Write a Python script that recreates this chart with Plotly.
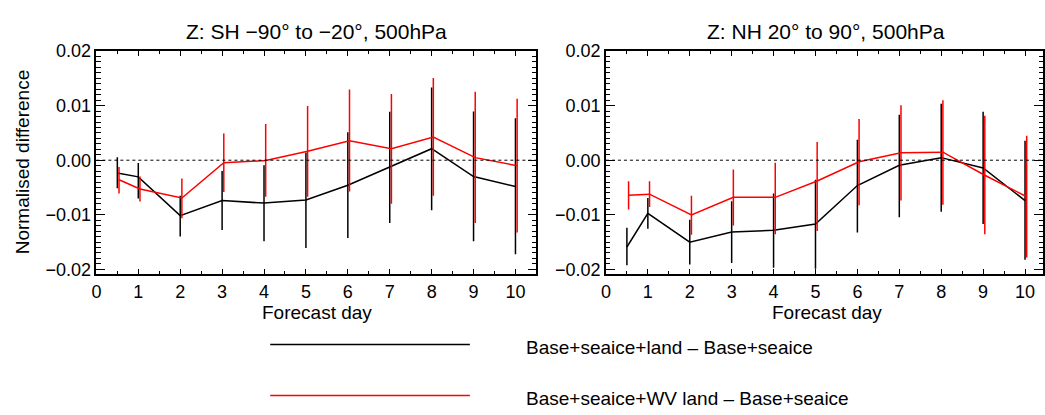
import plotly.graph_objects as go

# ---------------- data ----------------
days = [0.5, 1, 2, 3, 4, 5, 6, 7, 8, 9, 10]
x_ticks = [0, 1, 2, 3, 4, 5, 6, 7, 8, 9, 10]
y_ticks = [-0.02, -0.01, 0.0, 0.01, 0.02]

panel_titles = ["Z: SH \u221290\u00b0 to \u221220\u00b0, 500hPa", "Z: NH 20\u00b0 to 90\u00b0, 500hPa"]
series_names = ["Base+seaice+land \u2013 Base+seaice", "Base+seaice+WV land \u2013 Base+seaice"]

# SH panel, black series (Base+seaice+land - Base+seaice)
sh_land_mean = [-0.00235, -0.00305, -0.01015, -0.0074, -0.00786, -0.00728, -0.00458, -0.00123, 0.00211, -0.0030, -0.00481]
sh_land_hi = [0.00053, -0.00053, -0.0065, -0.0020, -0.00094, 0.00141, 0.0051, 0.00886, 0.01332, 0.00892, 0.00769]
sh_land_lo = [-0.00516, -0.0070, -0.01397, -0.0128, -0.01485, -0.01608, -0.01426, -0.0115, -0.00915, -0.01485, -0.01725]

# SH panel, red series (Base+seaice+WV land - Base+seaice)
sh_wv_mean = [-0.00358, -0.00528, -0.00692, -0.00047, -0.00006, 0.00164, 0.00358, 0.00211, 0.00423, 0.00047, -0.0010]
sh_wv_hi = [-0.00123, -0.0030, -0.00335, 0.00487, 0.00663, 0.00992, 0.01297, 0.01215, 0.01508, 0.01256, 0.01127]
sh_wv_lo = [-0.0061, -0.00757, -0.01062, -0.00581, -0.00669, -0.00669, -0.00575, -0.00798, -0.00651, -0.0115, -0.01326]

# NH panel, black series
nh_land_mean = [-0.0159, -0.00974, -0.01502, -0.01315, -0.01285, -0.01168, -0.00464, -0.00094, 0.00047, -0.00141, -0.0074]
nh_land_hi = [-0.01238, -0.00692, -0.01092, -0.00751, -0.0061, -0.00358, 0.00376, 0.00833, 0.01033, 0.00886, 0.00358]
nh_land_lo = [-0.01925, -0.01256, -0.01913, -0.01884, -0.01972, -0.0199, -0.01326, -0.01045, -0.00945, -0.01168, -0.01825]

# NH panel, red series
nh_wv_mean = [-0.0064, -0.00622, -0.01004, -0.00681, -0.00681, -0.00381, -0.00029, 0.00135, 0.00147, -0.00276, -0.00669]
nh_wv_hi = [-0.00387, -0.00387, -0.00651, -0.0017, -0.00047, 0.00335, 0.00757, 0.01009, 0.01097, 0.00816, 0.00446]
nh_wv_lo = [-0.00904, -0.00857, -0.01367, -0.01197, -0.01356, -0.01297, -0.00827, -0.0074, -0.00816, -0.01356, -0.01784]

# ---------------- figure ----------------
W, H = 1045, 415
FONT = "Liberation Sans, Arial, Helvetica, sans-serif"
RED = "#ff0000"
BLACK = "#000000"
red_shift = 0.04

fig = go.Figure()


def add_series(mean, lo, hi, color, xa, ya, shift):
    xs = [d + shift for d in days]
    plus = [h - m for h, m in zip(hi, mean)]
    minus = [m - l for m, l in zip(mean, lo)]
    fig.add_trace(go.Scatter(
        x=xs, y=mean, mode="lines", xaxis=xa, yaxis=ya,
        line=dict(color=color, width=1.5),
        error_y=dict(type="data", symmetric=False, array=plus, arrayminus=minus,
                     color=color, thickness=1.5, width=0),
        showlegend=False, hoverinfo="skip"))


add_series(sh_land_mean, sh_land_lo, sh_land_hi, BLACK, "x", "y", 0.0)
add_series(sh_wv_mean, sh_wv_lo, sh_wv_hi, RED, "x", "y", red_shift)
add_series(nh_land_mean, nh_land_lo, nh_land_hi, BLACK, "x2", "y2", 0.0)
add_series(nh_wv_mean, nh_wv_lo, nh_wv_hi, RED, "x2", "y2", red_shift)

# panel geometry (pixels)
left_px = [92, 535]
right_px = [605, 1045]
top_px, bot_px = 42.7, 274.3
x_full = 10.5
px_per_day = (left_px[1] - left_px[0]) / x_full

ydom = [1 - bot_px / H, 1 - top_px / H]
yrange = [-0.0208, 0.02]

tickfont = dict(family=FONT, size=18, color="black")

common_x = dict(
    showline=True, linecolor="black", linewidth=1.5, mirror="ticks",
    ticks="inside", ticklen=5, tickwidth=1, tickcolor="black",
    tickvals=x_ticks, ticktext=[str(t) for t in x_ticks],
    minor=dict(dtick=0.5, ticks="inside", ticklen=3, tickcolor="black", tickwidth=1, showgrid=False),
    showgrid=False, zeroline=False, tickfont=tickfont, ticklabelstandoff=1,
)
common_y = dict(
    showline=True, linecolor="black", linewidth=1.5, mirror="ticks",
    ticks="inside", ticklen=9, tickwidth=1, tickcolor="black",
    tickvals=y_ticks, tickformat=".2f", range=yrange, domain=ydom,
    minor=dict(dtick=0.001, tick0=0, ticks="inside", ticklen=4.5, tickcolor="black", tickwidth=1, showgrid=False),
    showgrid=False, zeroline=False, tickfont=tickfont,
)

fig.update_layout(
    width=W, height=H, margin=dict(l=0, r=0, t=0, b=0),
    paper_bgcolor="white", plot_bgcolor="white",
    font=dict(family=FONT, size=18, color="black"),
    xaxis=dict(common_x, domain=[left_px[0] / W, left_px[1] / W], range=[0, x_full], anchor="y"),
    yaxis=dict(common_y, anchor="x"),
    xaxis2=dict(common_x, domain=[right_px[0] / W, right_px[1] / W],
                range=[0, (right_px[1] - right_px[0]) / px_per_day], anchor="y2"),
    yaxis2=dict(common_y, anchor="x2"),
)

# dotted zero lines
for xr, yr in [("x domain", "y"), ("x2 domain", "y2")]:
    fig.add_shape(type="line", xref=xr, yref=yr, x0=0, x1=1, y0=0, y1=0,
                  line=dict(color="black", width=1, dash="dot"))

# titles
ann = []
for i, px in enumerate([(left_px[0] + left_px[1]) / 2, (605 + 1048) / 2]):
    ann.append(dict(text=panel_titles[i], x=px / W, y=1 - 22 / H, xref="paper", yref="paper",
                    xanchor="center", yanchor="middle", showarrow=False,
                    font=dict(family=FONT, size=21, color="black")))
    ann.append(dict(text="Forecast day", x=(px + 1) / W, y=1 - 315 / H, xref="paper", yref="paper",
                    xanchor="center", yanchor="middle", showarrow=False,
                    font=dict(family=FONT, size=19, color="black")))
ann.append(dict(text="Normalised difference", x=18 / W, y=1 - 158.5 / H, xref="paper", yref="paper",
                xanchor="center", yanchor="middle", showarrow=False, textangle=-90,
                font=dict(family=FONT, size=19, color="black")))

# legend (manual)
for name, color, ly in [(series_names[0], BLACK, 348), (series_names[1], RED, 401)]:
    fig.add_shape(type="line", xref="paper", yref="paper", x0=267 / W, x1=468 / W,
                  y0=1 - ly / H, y1=1 - ly / H, line=dict(color=color, width=1.5))
    ann.append(dict(text=name, x=522 / W, y=1 - (ly + 3) / H, xref="paper", yref="paper",
                    xanchor="left", yanchor="middle", showarrow=False,
                    font=dict(family=FONT, size=19, color="black")))

fig.update_layout(annotations=ann)

fig.write_html("out.html")
